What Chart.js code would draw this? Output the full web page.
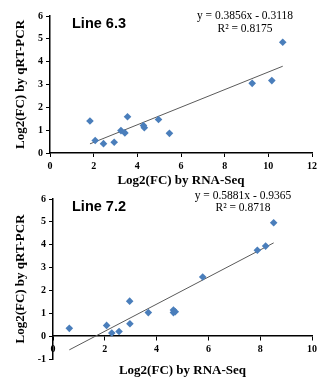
<!DOCTYPE html>
<html>
<head>
<meta charset="utf-8">
<script src="https://cdn.jsdelivr.net/npm/chart.js@4.4.1/dist/chart.umd.min.js"></script>
<style>
  body { margin: 0; background: #fff; }
  #wrap { position: relative; width: 326px; height: 388px; overflow: hidden; }
  canvas { position: absolute; left: 0; }
  .lbl { position: absolute; font-family: 'Liberation Sans', Arial, sans-serif; font-weight: bold; font-size: 14.5px; color: #000; white-space: nowrap; }
  .eq { position: absolute; font-family: 'Liberation Serif', 'Times New Roman', serif; font-size: 11.5px; text-align: center; width: 124px; color: #000; }
</style>
</head>
<body>
<div id="wrap">
  <canvas id="chart63" width="326" height="190" style="top:0"></canvas>
  <canvas id="chart72" width="326" height="198" style="top:190px"></canvas>
  <div class="lbl" style="left:72px;top:15px">Line 6.3</div>
  <div class="eq" style="left:183px;top:9px;line-height:13.3px">y = 0.3856x - 0.3118<br>R² = 0.8175</div>
  <div class="lbl" style="left:72px;top:198px">Line 7.2</div>
  <div class="eq" style="left:181px;top:190px;line-height:11.6px">y = 0.5881x - 0.9365<br>R² = 0.8718</div>
</div>
<script>
// Line 6.3 - log2 fold change, RNA-Seq vs qRT-PCR
const rnaSeq63 = [1.83, 2.07, 2.45, 2.94, 3.25, 3.43, 3.55, 4.28, 4.32, 4.97, 5.47, 9.26, 10.16, 10.66];
const qpcr63   = [1.40, 0.55, 0.41, 0.47, 0.98, 0.88, 1.59, 1.20, 1.11, 1.47, 0.86, 3.05, 3.17, 4.85];
const trendX63 = [1.83, 10.66];
const trendY63 = [0.40, 3.80];
const xTicks63 = [0, 2, 4, 6, 8, 10, 12];
const yTicks63 = [0, 1, 2, 3, 4, 5, 6];

// Line 7.2
const rnaSeq72 = [0.63, 2.07, 2.27, 2.55, 2.96, 2.97, 3.68, 4.65, 4.65, 4.72, 5.78, 7.89, 8.21, 8.52];
const qpcr72   = [0.34, 0.47, 0.14, 0.20, 1.53, 0.54, 1.03, 1.14, 1.03, 1.07, 2.59, 3.76, 3.94, 4.96];
const trendX72 = [0.63, 8.52];
const trendY72 = [-0.60, 4.08];
const xTicks72 = [0, 2, 4, 6, 8, 10];
const yTicks72 = [-1, 0, 1, 2, 3, 4, 5, 6];

const xTitle = 'Log2(FC) by RNA-Seq';
const yTitle = 'Log2(FC) by qRT-PCR';

const tickFont = { family: "'Liberation Serif', 'Times New Roman', serif", weight: 'bold', size: 10 };
const titleFont = { family: "'Liberation Serif', 'Times New Roman', serif", weight: 'bold', size: 13 };
const axisGrid = { display: true, drawOnChartArea: false, drawTicks: true, tickLength: 4, color: '#000', lineWidth: 1 };
const axisBorder = { display: true, color: '#000', width: 1.5 };

function toPoints(xs, ys) {
    return xs.map((x, i) => ({ x: x, y: ys[i] }));
}

function datasetsFor(xs, ys, tx, ty) {
    return [{
        label: 'data',
        data: toPoints(xs, ys),
        pointStyle: 'rectRot',
        pointRadius: 3.8,
        backgroundColor: '#4a7ebb',
        borderColor: '#4a7ebb',
        borderWidth: 0,
        showLine: false,
        order: 1
    }, {
        label: 'trend',
        data: toPoints(tx, ty),
        showLine: true,
        pointRadius: 0,
        borderColor: '#5a5a5a',
        borderWidth: 1,
        fill: false,
        order: 2
    }];
}

function linearAxis(ticks, step) {
    return {
        type: 'linear',
        min: ticks[0],
        max: ticks[ticks.length - 1],
        ticks: { stepSize: step, font: tickFont, color: '#000', padding: 3 },
        grid: axisGrid,
        border: axisBorder
    };
}

// top chart
const x63 = linearAxis(xTicks63, 2);
x63.position = 'bottom';
x63.title = { display: true, text: xTitle, font: titleFont, color: '#000', padding: { top: 0, bottom: 2 } };
x63.afterFit = function(scale) { scale.height = 37; };
const y63 = linearAxis(yTicks63, 1);
y63.title = { display: true, text: yTitle, font: titleFont, color: '#000', padding: { top: 13, bottom: 0 } };
y63.afterFit = function(scale) { scale.width = 50; };

new Chart(document.getElementById('chart63'), {
    type: 'scatter',
    data: { datasets: datasetsFor(rnaSeq63, qpcr63, trendX63, trendY63) },
    options: {
        responsive: false,
        animation: false,
        devicePixelRatio: 1,
        layout: { padding: { top: 16, right: 14, left: 0, bottom: 0 } },
        plugins: { legend: { display: false }, tooltip: { enabled: false } },
        scales: { x: x63, y: y63 }
    }
});

// bottom chart: x axis crosses at y = 0, title on a separate bottom axis
const x72 = linearAxis(xTicks72, 2);
x72.position = { y: 0 };
const xt72 = {
    type: 'linear',
    position: 'bottom',
    min: xTicks72[0],
    max: xTicks72[xTicks72.length - 1],
    ticks: { display: false },
    grid: { display: false },
    border: { display: false },
    title: { display: true, text: xTitle, font: titleFont, color: '#000', padding: { top: 0, bottom: 10 } },
    afterFit: function(scale) { scale.height = 29; }
};
const y72 = linearAxis(yTicks72, 1);
y72.title = { display: true, text: yTitle, font: titleFont, color: '#000', padding: { top: 13, bottom: 0 } };
y72.afterFit = function(scale) { scale.width = 53; };

new Chart(document.getElementById('chart72'), {
    type: 'scatter',
    data: { datasets: datasetsFor(rnaSeq72, qpcr72, trendX72, trendY72) },
    options: {
        responsive: false,
        animation: false,
        devicePixelRatio: 1,
        layout: { padding: { top: 6, right: 14, left: 0, bottom: 0 } },
        plugins: { legend: { display: false }, tooltip: { enabled: false } },
        scales: { x: x72, xt: xt72, y: y72 }
    }
});
</script>
</body>
</html>
